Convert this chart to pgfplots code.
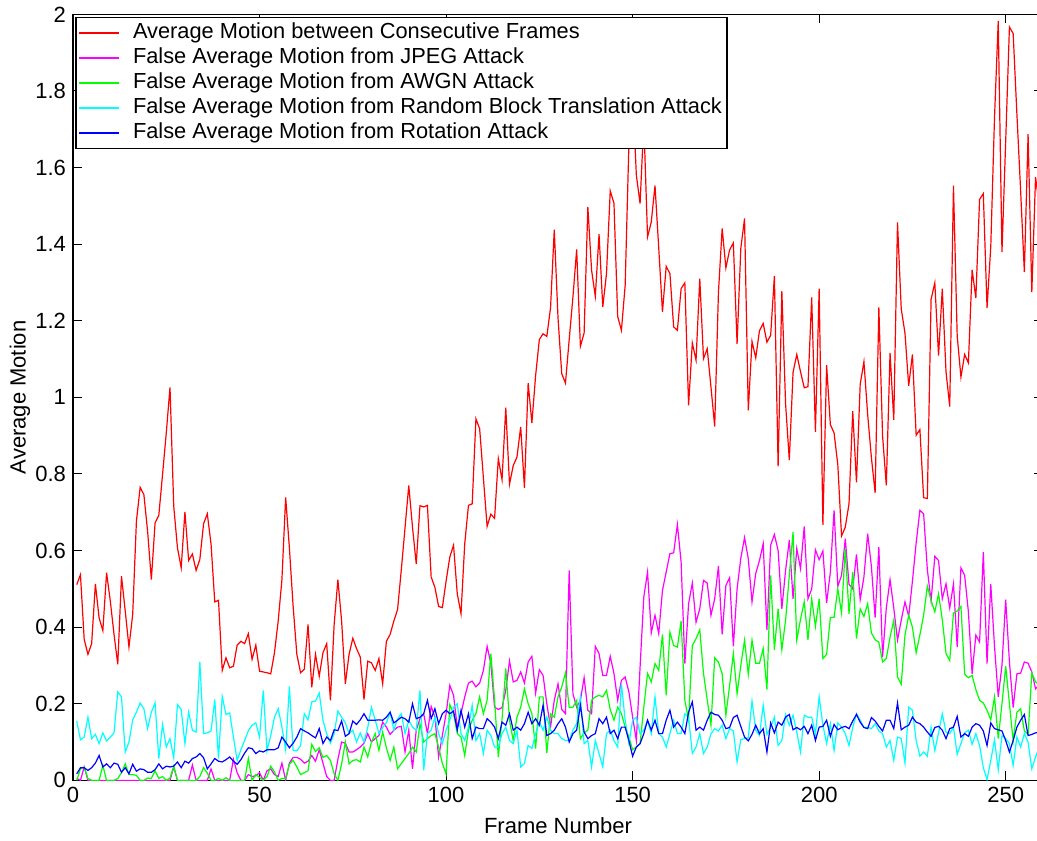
\documentclass[border=0pt]{standalone}
\usepackage{fontspec}
\setmainfont{Liberation Sans}
\usepackage{pgfplots}
\usepackage{pgfplotstable}
\pgfplotsset{compat=1.18}
\definecolor{mred}{RGB}{255,0,0}
\definecolor{mmag}{RGB}{255,0,255}
\definecolor{mgreen}{RGB}{0,255,0}
\definecolor{mcyan}{RGB}{0,255,255}
\definecolor{mblue}{RGB}{0,0,255}
\pgfplotstableread{
x r m g c b
1 0.511 0.005 0.000 0.155 0.017
2 0.537 0.000 0.030 0.106 0.033
3 0.368 0.035 0.035 0.113 0.033
4 0.329 0.000 0.005 0.165 0.026
5 0.357 0.000 0.000 0.109 0.033
6 0.513 0.000 0.000 0.120 0.045
7 0.424 0.000 0.000 0.096 0.065
8 0.391 0.000 0.039 0.124 0.035
9 0.542 0.000 0.000 0.103 0.043
10 0.468 0.000 0.000 0.113 0.033
11 0.381 0.000 0.000 0.124 0.045
12 0.303 0.000 0.005 0.231 0.042
13 0.533 0.000 0.020 0.218 0.021
14 0.442 0.000 0.043 0.074 0.033
15 0.348 0.000 0.015 0.100 0.017
16 0.433 0.000 0.015 0.158 0.042
17 0.677 0.000 0.013 0.178 0.024
18 0.765 0.000 0.000 0.202 0.030
19 0.746 0.000 0.000 0.187 0.028
20 0.650 0.000 0.006 0.135 0.021
21 0.524 0.000 0.005 0.178 0.021
22 0.672 0.000 0.025 0.202 0.028
23 0.692 0.000 0.005 0.057 0.043
24 0.798 0.000 0.010 0.146 0.030
25 0.907 0.000 0.000 0.087 0.037
26 1.026 0.000 0.006 0.109 0.035
27 0.716 0.035 0.037 0.059 0.037
28 0.607 0.000 0.000 0.198 0.048
29 0.555 0.000 0.000 0.185 0.033
30 0.701 0.000 0.000 0.096 0.050
31 0.574 0.000 0.000 0.178 0.045
32 0.591 0.040 0.000 0.131 0.057
33 0.548 0.000 0.000 0.126 0.061
34 0.577 0.000 0.010 0.309 0.070
35 0.670 0.000 0.033 0.122 0.059
36 0.696 0.000 0.019 0.124 0.030
37 0.617 0.030 0.000 0.129 0.043
38 0.466 0.000 0.000 0.211 0.057
39 0.470 0.000 0.005 0.057 0.050
40 0.287 0.000 0.000 0.219 0.048
41 0.320 0.000 0.007 0.172 0.054
42 0.294 0.000 0.000 0.176 0.061
43 0.298 0.055 0.000 0.113 0.050
44 0.353 0.020 0.000 0.052 0.042
45 0.363 0.000 0.000 0.080 0.054
46 0.357 0.000 0.000 0.104 0.071
47 0.383 0.015 0.057 0.129 0.085
48 0.316 0.010 0.000 0.144 0.083
49 0.353 0.012 0.015 0.150 0.070
50 0.285 0.020 0.008 0.113 0.077
51 0.283 0.000 0.000 0.235 0.074
52 0.281 0.025 0.010 0.077 0.080
53 0.278 0.030 0.037 0.117 0.080
54 0.333 0.015 0.022 0.165 0.080
55 0.416 0.010 0.000 0.187 0.085
56 0.524 0.045 0.005 0.139 0.113
57 0.739 0.000 0.005 0.080 0.100
58 0.607 0.045 0.042 0.245 0.085
59 0.455 0.060 0.052 0.078 0.097
60 0.329 0.060 0.035 0.077 0.113
61 0.281 0.055 0.015 0.091 0.135
62 0.290 0.045 0.020 0.174 0.129
63 0.407 0.050 0.025 0.158 0.124
64 0.243 0.065 0.094 0.205 0.117
65 0.329 0.050 0.075 0.207 0.111
66 0.272 0.080 0.085 0.228 0.135
67 0.333 0.045 0.060 0.157 0.096
68 0.357 0.010 0.065 0.122 0.113
69 0.209 0.000 0.052 0.097 0.104
70 0.407 0.000 0.017 0.122 0.132
71 0.524 0.055 0.000 0.181 0.130
72 0.416 0.100 0.043 0.165 0.155
73 0.252 0.097 0.100 0.150 0.115
74 0.329 0.074 0.043 0.122 0.122
75 0.371 0.074 0.052 0.131 0.155
76 0.344 0.080 0.054 0.100 0.146
77 0.322 0.087 0.048 0.124 0.158
78 0.211 0.097 0.087 0.100 0.174
79 0.311 0.122 0.061 0.138 0.157
80 0.307 0.100 0.100 0.191 0.157
81 0.287 0.109 0.122 0.158 0.157
82 0.318 0.117 0.078 0.122 0.158
83 0.252 0.152 0.126 0.138 0.157
84 0.363 0.139 0.085 0.150 0.165
85 0.381 0.120 0.052 0.178 0.178
86 0.416 0.131 0.087 0.131 0.150
87 0.446 0.139 0.030 0.160 0.157
88 0.55 0.141 0.044 0.174 0.165
89 0.66 0.074 0.057 0.122 0.161
90 0.770 0.131 0.070 0.157 0.152
91 0.661 0.030 0.087 0.139 0.200
92 0.565 0.131 0.074 0.131 0.161
93 0.717 0.161 0.148 0.235 0.165
94 0.714 0.174 0.100 0.026 0.174
95 0.718 0.122 0.109 0.122 0.209
96 0.531 0.193 0.117 0.131 0.161
97 0.504 0.165 0.122 0.165 0.187
98 0.454 0.061 0.087 0.122 0.148
99 0.451 0.117 0.044 0.096 0.174
100 0.52 0.174 0.017 0.131 0.183
101 0.583 0.248 0.198 0.157 0.174
102 0.614 0.222 0.174 0.191 0.181
103 0.487 0.139 0.122 0.200 0.131
104 0.435 0.174 0.113 0.122 0.183
105 0.618 0.218 0.065 0.104 0.139
106 0.718 0.254 0.131 0.139 0.174
107 0.722 0.259 0.157 0.196 0.109
108 0.944 0.244 0.174 0.104 0.139
109 0.918 0.254 0.218 0.122 0.135
110 0.79 0.287 0.174 0.070 0.135
111 0.663 0.350 0.209 0.131 0.161
112 0.695 0.305 0.331 0.117 0.152
113 0.684 0.191 0.209 0.087 0.139
114 0.840 0.185 0.061 0.087 0.109
115 0.785 0.190 0.160 0.122 0.152
116 0.973 0.235 0.292 0.139 0.144
117 0.773 0.312 0.157 0.104 0.174
118 0.822 0.257 0.104 0.096 0.131
119 0.844 0.261 0.165 0.131 0.139
120 0.923 0.283 0.191 0.035 0.131
121 0.764 0.254 0.239 0.044 0.148
122 1.037 0.309 0.200 0.091 0.178
123 0.933 0.324 0.174 0.083 0.148
124 1.057 0.228 0.083 0.122 0.161
125 1.151 0.289 0.218 0.152 0.144
126 1.166 0.274 0.218 0.131 0.196
127 1.159 0.200 0.071 0.165 0.117
128 1.234 0.139 0.174 0.131 0.122
129 1.438 0.209 0.165 0.122 0.131
130 1.208 0.252 0.218 0.122 0.148
131 1.062 0.185 0.244 0.109 0.161
132 1.037 0.174 0.280 0.104 0.139
133 1.151 0.548 0.191 0.104 0.100
134 1.262 0.226 0.191 0.131 0.122
135 1.386 0.191 0.209 0.148 0.131
136 1.133 0.209 0.109 0.218 0.196
137 1.168 0.268 0.124 0.096 0.126
138 1.497 0.183 0.131 0.104 0.109
139 1.332 0.174 0.209 0.035 0.117
140 1.264 0.350 0.218 0.104 0.122
141 1.426 0.331 0.222 0.070 0.161
142 1.236 0.274 0.218 0.035 0.148
143 1.323 0.274 0.235 0.122 0.165
144 1.539 0.324 0.185 0.131 0.122
145 1.507 0.279 0.157 0.104 0.131
146 1.211 0.209 0.191 0.087 0.109
147 1.175 0.261 0.174 0.252 0.139
148 1.292 0.270 0.139 0.157 0.139
149 1.66 0.231 0.113 0.096 0.104
150 1.80 0.165 0.080 0.157 0.063
151 1.580 0.104 0.087 0.165 0.087
152 1.506 0.296 0.096 0.122 0.096
153 1.72 0.479 0.191 0.131 0.122
154 1.419 0.544 0.279 0.157 0.157
155 1.458 0.385 0.257 0.122 0.131
156 1.553 0.431 0.305 0.218 0.157
157 1.39 0.383 0.287 0.122 0.122
158 1.223 0.496 0.381 0.113 0.122
159 1.342 0.544 0.222 0.087 0.157
160 1.323 0.592 0.387 0.122 0.183
161 1.184 0.594 0.352 0.157 0.139
162 1.175 0.668 0.348 0.122 0.152
163 1.284 0.570 0.416 0.122 0.139
164 1.299 0.305 0.209 0.174 0.122
165 0.979 0.461 0.157 0.165 0.178
166 1.142 0.515 0.352 0.070 0.205
167 1.097 0.413 0.370 0.087 0.131
168 1.310 0.448 0.393 0.122 0.139
169 1.101 0.522 0.279 0.070 0.131
170 1.127 0.515 0.210 0.087 0.157
171 1.027 0.431 0.144 0.122 0.178
172 0.924 0.474 0.320 0.135 0.172
173 1.273 0.559 0.309 0.129 0.170
174 1.441 0.381 0.278 0.144 0.157
175 1.338 0.509 0.170 0.109 0.135
176 1.385 0.529 0.248 0.135 0.138
177 1.403 0.350 0.331 0.129 0.164
178 1.140 0.500 0.226 0.048 0.170
179 1.389 0.580 0.300 0.106 0.141
180 1.467 0.634 0.366 0.109 0.113
181 0.966 0.579 0.277 0.111 0.103
182 1.146 0.466 0.366 0.207 0.120
183 1.103 0.540 0.306 0.131 0.144
184 1.174 0.574 0.306 0.117 0.122
185 1.193 0.618 0.344 0.196 0.135
186 1.144 0.392 0.237 0.120 0.074
187 1.162 0.614 0.535 0.139 0.150
188 1.317 0.642 0.341 0.165 0.124
189 0.820 0.600 0.448 0.091 0.152
190 1.277 0.448 0.341 0.104 0.144
191 0.983 0.548 0.418 0.172 0.165
192 0.836 0.628 0.535 0.144 0.172
193 1.065 0.474 0.648 0.170 0.132
194 1.112 0.605 0.366 0.126 0.138
195 1.067 0.553 0.420 0.074 0.132
196 1.025 0.663 0.466 0.170 0.141
197 1.028 0.474 0.367 0.165 0.122
198 1.261 0.500 0.474 0.165 0.144
199 0.910 0.602 0.402 0.122 0.104
200 1.284 0.576 0.474 0.218 0.139
201 0.667 0.599 0.318 0.144 0.141
202 1.084 0.463 0.329 0.096 0.157
203 0.929 0.544 0.425 0.148 0.115
204 0.907 0.705 0.426 0.078 0.146
205 0.824 0.507 0.500 0.150 0.132
206 0.638 0.535 0.437 0.139 0.138
207 0.661 0.631 0.605 0.122 0.141
208 0.722 0.512 0.435 0.091 0.135
209 0.964 0.500 0.544 0.138 0.155
210 0.778 0.590 0.370 0.174 0.172
211 1.034 0.472 0.448 0.157 0.152
212 1.093 0.531 0.428 0.138 0.138
213 0.955 0.644 0.461 0.139 0.135
214 0.843 0.559 0.385 0.135 0.164
215 0.751 0.425 0.367 0.148 0.155
216 1.235 0.609 0.361 0.129 0.141
217 0.899 0.322 0.309 0.122 0.129
218 0.770 0.450 0.318 0.087 0.157
219 1.116 0.524 0.374 0.104 0.157
220 0.941 0.450 0.418 0.052 0.135
221 1.457 0.366 0.270 0.113 0.202
222 1.231 0.418 0.251 0.109 0.132
223 1.168 0.466 0.379 0.045 0.139
224 1.030 0.428 0.431 0.191 0.144
225 1.112 0.520 0.400 0.183 0.165
226 0.901 0.620 0.333 0.104 0.152
227 0.916 0.705 0.380 0.063 0.148
228 0.738 0.696 0.431 0.074 0.139
229 0.736 0.550 0.507 0.063 0.126
230 1.256 0.468 0.470 0.139 0.115
231 1.299 0.585 0.440 0.078 0.138
232 1.109 0.574 0.487 0.124 0.141
233 1.284 0.474 0.420 0.174 0.131
234 1.067 0.513 0.331 0.126 0.109
235 0.976 0.450 0.313 0.122 0.135
236 1.553 0.513 0.437 0.139 0.139
237 1.160 0.348 0.442 0.068 0.167
238 1.053 0.555 0.454 0.096 0.113
239 1.112 0.535 0.277 0.124 0.122
240 1.090 0.440 0.268 0.131 0.115
241 1.333 0.278 0.274 0.094 0.139
242 1.259 0.379 0.237 0.122 0.148
243 1.517 0.361 0.209 0.091 0.144
244 1.532 0.596 0.202 0.033 0.129
245 1.233 0.305 0.183 0.002 0.091
246 1.394 0.512 0.158 0.052 0.150
247 1.730 0.350 0.218 0.106 0.135
248 1.983 0.218 0.109 0.028 0.132
249 1.379 0.300 0.200 0.117 0.129
250 1.670 0.472 0.298 0.109 0.104
251 1.967 0.309 0.200 0.096 0.074
252 1.950 0.190 0.103 0.039 0.104
253 1.740 0.278 0.178 0.113 0.139
254 1.540 0.280 0.187 0.087 0.157
255 1.327 0.309 0.129 0.122 0.172
256 1.687 0.306 0.120 0.100 0.117
257 1.275 0.283 0.280 0.030 0.120
258 1.575 0.239 0.257 0.061 0.124
259 1.500 0.250 0.250 0.087 0.126
}\datatable

\begin{document}
\begin{tikzpicture}[trim left=-36.5pt, trim right=482pt]
\path (0pt,-29pt) (0pt,390pt);
\begin{axis}[
  at={(0,0)}, anchor=south west,
  scale only axis, width=485pt, height=383pt,
  xmin=0, xmax=260, ymin=0, ymax=2,
  xtick={0,50,100,150,200,250},
  ytick={0,0.2,0.4,0.6,0.8,1,1.2,1.4,1.6,1.8,2},
  tick align=inside, major tick length=4.5pt,
  tick style={black, line width=0.5pt},
  axis line style={black, line width=0.7pt},
  font=\fontsize{11}{13}\selectfont,
  /pgf/number format/assume math mode=true,
  xlabel={Frame Number}, ylabel={Average Motion},
  xlabel style={at={(axis description cs:0.5,-0.0587)}, anchor=center},
  ylabel style={at={(axis description cs:-0.0546,0.5)}, anchor=center},
  legend style={at={(rel axis cs:0.002,0.997)}, anchor=north west,
    draw=black, line width=0.9pt, fill=white, inner sep=1.5pt,
    font=\fontsize{10.9}{13}\selectfont,
    nodes={inner sep=1pt, text height=8pt, text depth=2.5pt},
    column sep=5.5pt},
  legend cell align=left,
  legend image code/.code={\draw[#1, line width=0.6pt] (1pt,0pt) -- (21pt,0pt);},
]
\addplot[mred, line width=0.6pt] table[x=x, y=r] {\datatable};
\addlegendentry{Average Motion between Consecutive Frames}
\addplot[mmag, line width=0.6pt] table[x=x, y=m] {\datatable};
\addlegendentry{False Average Motion from JPEG Attack}
\addplot[mgreen, line width=0.6pt] table[x=x, y=g] {\datatable};
\addlegendentry{False Average Motion from AWGN Attack}
\addplot[mcyan, line width=0.6pt] table[x=x, y=c] {\datatable};
\addlegendentry{False Average Motion from Random Block Translation Attack}
\addplot[mblue, line width=0.6pt] table[x=x, y=b] {\datatable};
\addlegendentry{False Average Motion from Rotation Attack}
\end{axis}
\end{tikzpicture}
\end{document}
